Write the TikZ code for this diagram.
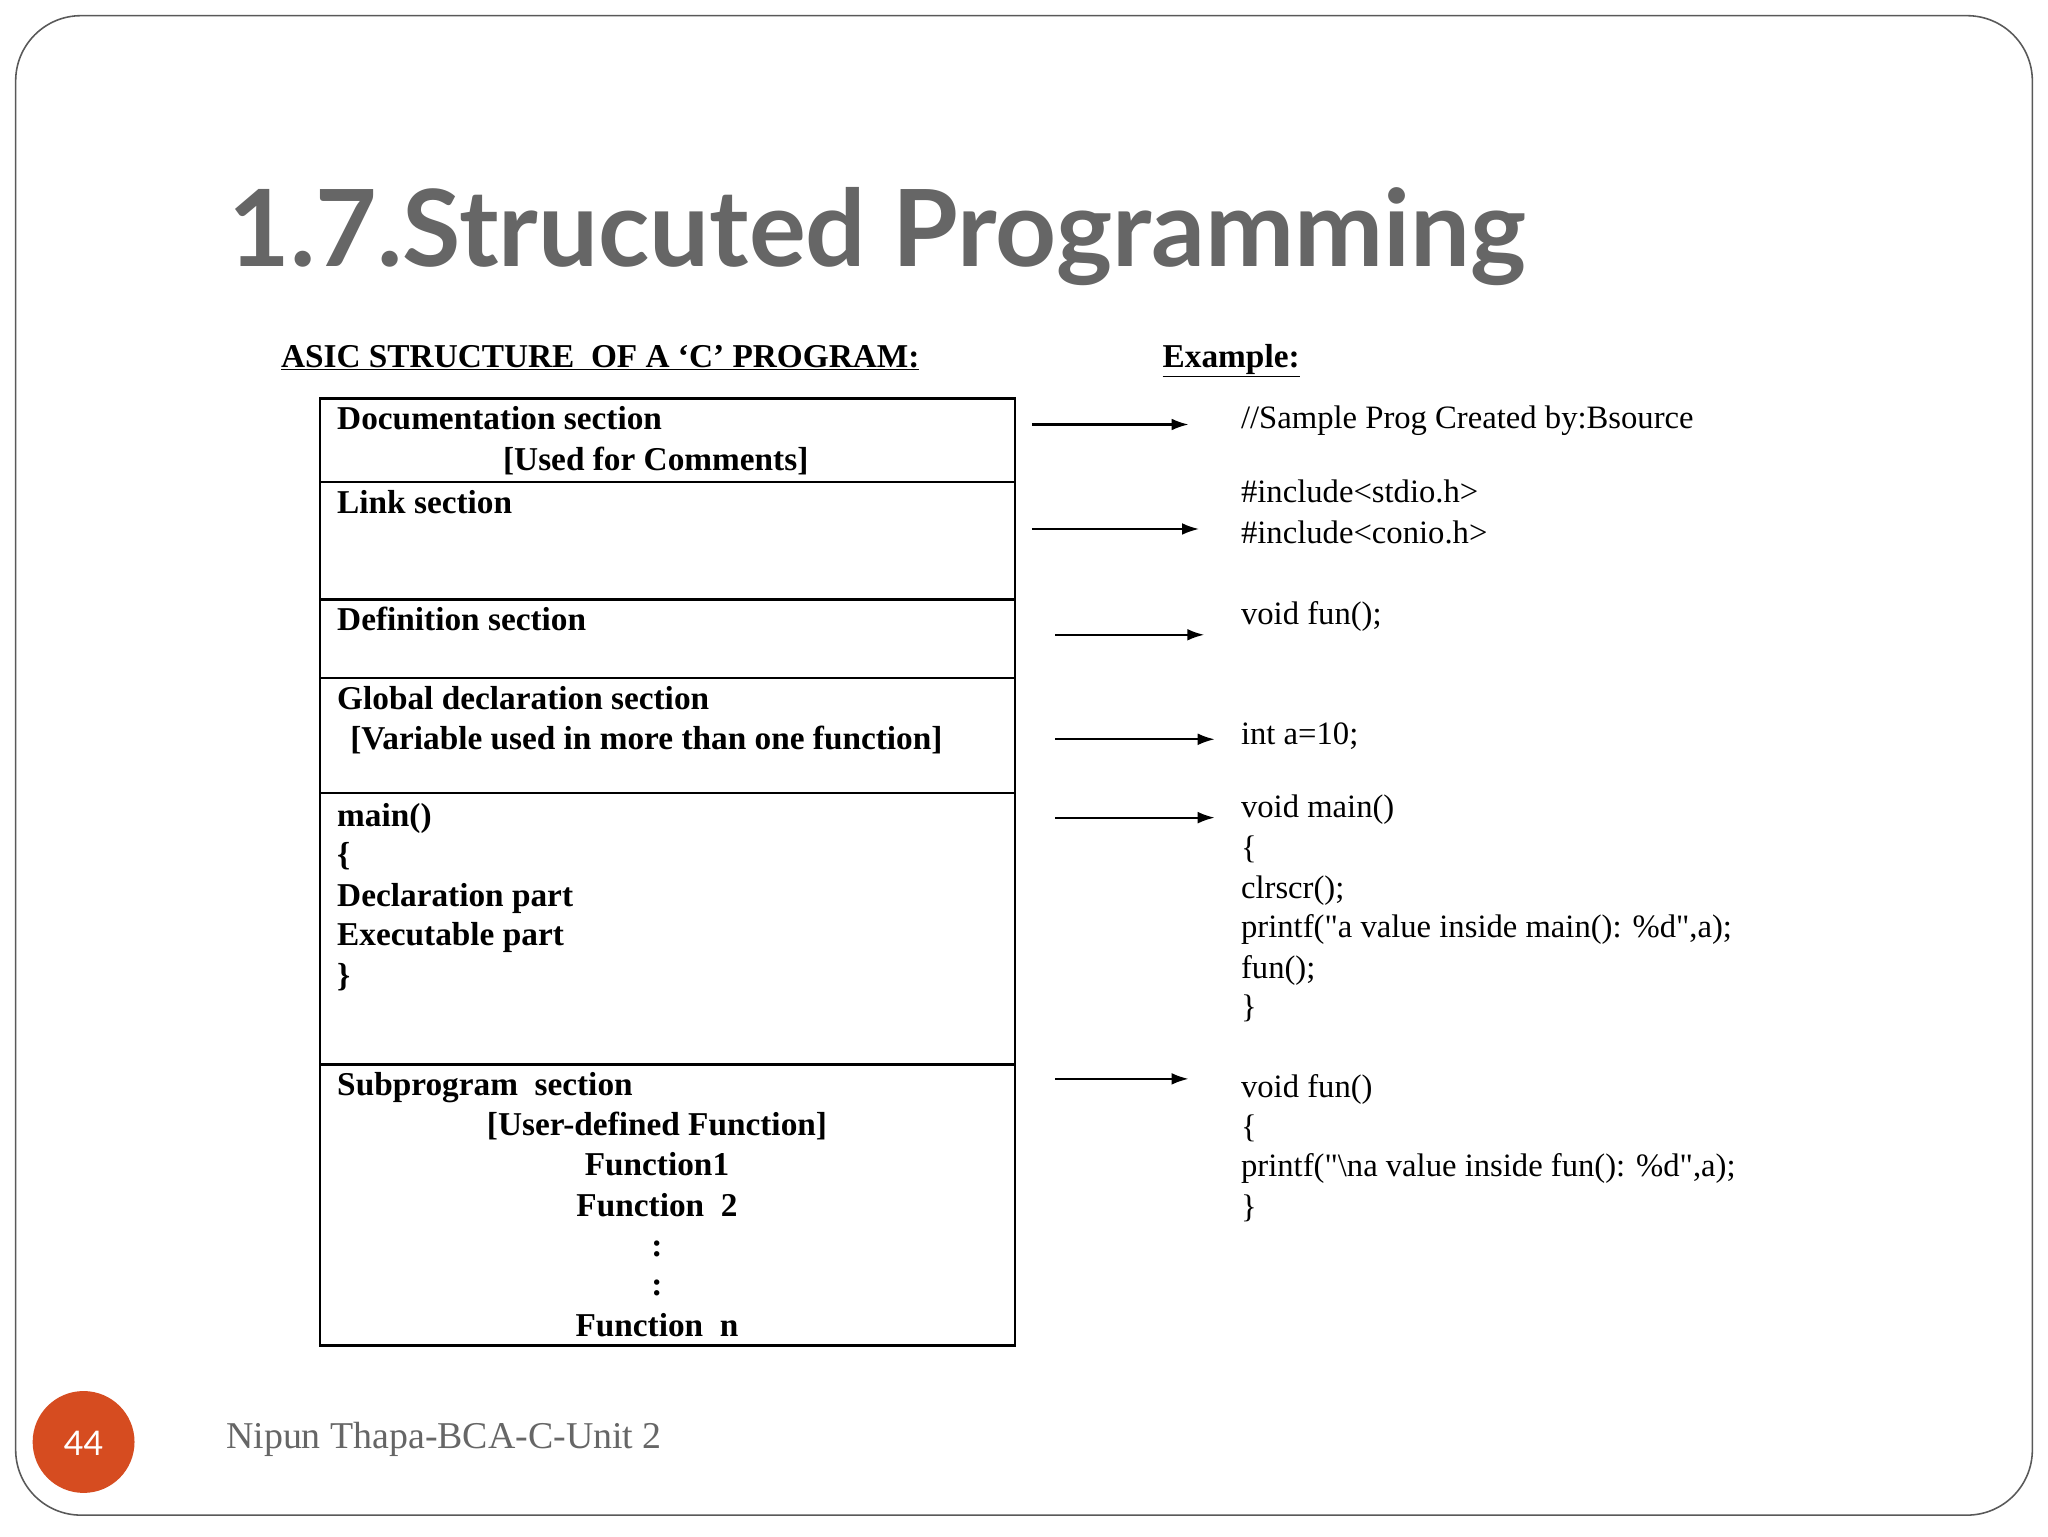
\documentclass[tikz,border=0pt]{standalone}
\usepackage{fontspec}
\setmainfont{Liberation Serif}
\newfontfamily\titlefont{Lato}
\usetikzlibrary{arrows.meta}
\definecolor{pgred}{RGB}{214,76,32}
\begin{document}
\begin{tikzpicture}[x=1pt,y=-1pt,
  bx/.style={anchor=base west,font=\fontsize{25.5}{28}\selectfont\bfseries,inner sep=0},
  bc/.style={anchor=base,font=\fontsize{25.5}{28}\selectfont\bfseries,inner sep=0},
  ex/.style={anchor=base west,font=\fontsize{25}{28}\selectfont,inner sep=0},
  arr/.style={line width=1.6pt,-{Latex[length=13pt,width=9pt]}},
  ln/.style={line width=1.8pt}]
\useasboundingbox (0,0) rectangle (1568,1176);
\fill[white] (0,0) rectangle (1568,1176);
\draw[line width=1.2pt,gray!70!black,rounded corners=50] (12,12) rectangle (1556,1160);
\node[anchor=base west,inner sep=0,text=black!60,font=\titlefont\fontsize{81.5}{90}\selectfont\bfseries] (title) at (175,204) {1.7.Strucuted Programming};
\node[bx] (hl) at (215,281) {\underline{ASIC STRUCTURE\ \ OF A ‘C’ PROGRAM:}};
\node[bx] (hr) at (890,281) {\underline{Example:}};
% boxes
\draw[ln] (245,305) rectangle (777,1030);
\foreach \y in {369,459,519,607,815} \draw[ln] (245,\y) -- (777,\y);
\node[bx] (t1) at (258,329) {Documentation section};
\node[bx] (t2) at (385,360) {[Used for Comments]};
\node[bx] (t3) at (258,393) {Link section};
\node[bx] (t4) at (258,483) {Definition section};
\node[bx] (t5) at (258,543) {Global declaration section};
\node[bx] (t6) at (268,574) {[Variable used in more than one function]};
\node[bx] (t7) at (258,633) {main()};
\node[bx] (t8) at (258,663) {\{};
\node[bx] (t9) at (258,694) {Declaration part};
\node[bx] (t10) at (258,724) {Executable part};
\node[bx] (t11) at (258,755) {\}};
\node[bx] (t12) at (258,839) {Subprogram\ \ section};
\node[bc] (t13) at (503,869) {[User-defined Function]};
\node[bc] (t14) at (503,900) {Function1};
\node[bc] (t15) at (503,931) {Function\ \ 2};
\node[bc] (t16) at (503,962) {:};
\node[bc] (t17) at (503,992) {:};
\node[bc] (t18) at (503,1023) {Function\ \ n};
% arrows
\coordinate (a1) at (790,325); \coordinate (b1) at (910,325);
\coordinate (a2) at (790,405); \coordinate (b2) at (918,405);
\coordinate (a3) at (808,486); \coordinate (b3) at (922,486);
\coordinate (a4) at (808,566); \coordinate (b4) at (930,566);
\coordinate (a5) at (808,626); \coordinate (b5) at (930,626);
\coordinate (a6) at (808,826); \coordinate (b6) at (910,826);
\foreach \i in {1,...,6} \draw[arr] (a\i) -- (b\i);
% example
\node[ex] (e1) at (950,328) {//Sample Prog Created by:Bsource};
\node[ex] (e2) at (950,385) {\#include<stdio.h>};
\node[ex] (e3) at (950,416) {\#include<conio.h>};
\node[ex] (e4) at (950,478) {void fun();};
\node[ex] (e5) at (950,570) {int a=10;};
\node[ex] (e6) at (950,626) {void main()};
\node[ex] (e7) at (950,657) {\{};
\node[ex] (e8) at (950,688) {clrscr();};
\node[ex] (e9) at (950,718) {printf(\textquotedbl a value inside main(): \%d\textquotedbl ,a);};
\node[ex] (e10) at (950,749) {fun();};
\node[ex] (e11) at (950,779) {\}};
\node[ex] (e12) at (950,840) {void fun()};
\node[ex] (e13) at (950,871) {\{};
\node[ex] (e14) at (950,901) {printf(\textquotedbl\textbackslash na value inside fun(): \%d\textquotedbl ,a);};
\node[ex] (e15) at (950,932) {\}};
% footer
\fill[pgred] (64,1104) circle (39);
\node[text=white,font=\titlefont\fontsize{26}{30}\selectfont] (pg) at (64,1105) {44};
\node[anchor=base west,inner sep=0,text=black!60,font=\fontsize{29}{32}\selectfont] (ft) at (173,1109) {Nipun Thapa-BCA-C-Unit 2};
\end{tikzpicture}
\end{document}
